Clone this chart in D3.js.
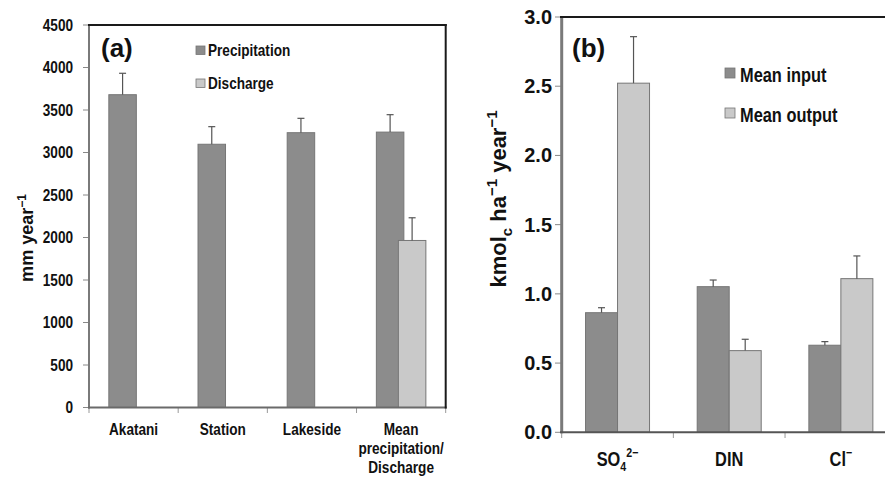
<!DOCTYPE html>
<html>
<head>
<meta charset="utf-8">
<script src="https://cdn.jsdelivr.net/npm/d3@7/dist/d3.min.js"></script>
<style>
  body { margin: 0; background: #fff; }
  text { font-family: "Liberation Sans", Arial, sans-serif; font-weight: bold; fill: #111; }
</style>
</head>
<body>
<svg id="chart" width="885" height="477"></svg>
<script>
// Panel (a): annual precipitation at three sites, and the mean precipitation vs. discharge
const sites = ["Akatani", "Station", "Lakeside", "Mean"];
const precipitation = [3680, 3097, 3233, 3240];
const precipitationErr = [252, 207, 169, 205];
const discharge = [null, null, null, 1965];
const dischargeErr = [null, null, null, 267];
const yTicksA = [0, 500, 1000, 1500, 2000, 2500, 3000, 3500, 4000, 4500];

// Panel (b): mean input and output fluxes of anions
const ions = ["SO4", "DIN", "Cl"];
const meanInput = [0.864, 1.052, 0.629];
const meanInputErr = [0.036, 0.048, 0.026];
const meanOutput = [2.522, 0.590, 1.110];
const meanOutputErr = [0.336, 0.082, 0.164];
const yTicksB = [0, 0.5, 1.0, 1.5, 2.0, 2.5, 3.0];

const DARK = "#8c8c8c", LIGHT = "#c9c9c9", EDGE = "#767676", ERR = "#555";
const svg = d3.select("#chart");

// text with a horizontal squeeze (narrow bold face)
function label(g, x, y, str, size, anchor, sx) {
  return g.append("text")
    .attr("transform", `translate(${x},${y}) scale(${sx},1)`)
    .attr("text-anchor", anchor || "start")
    .style("font-size", size + "px")
    .text(str);
}

function errorBars(g, data, cx, ys, capHalf) {
  data.forEach(d => {
    const x = cx(d), yb = ys(d.v), yt = ys(d.v + d.e);
    g.append("line").attr("x1", x).attr("x2", x).attr("y1", yb).attr("y2", yt)
      .attr("stroke", ERR).attr("stroke-width", 1.2);
    g.append("line").attr("x1", x - capHalf).attr("x2", x + capHalf).attr("y1", yt).attr("y2", yt)
      .attr("stroke", ERR).attr("stroke-width", 1.2);
  });
}

// ---------------- Panel (a) ----------------
{
  const g = svg.append("g");
  const x = d3.scaleBand().domain(sites).range([89, 445.7]).padding(0);
  const y = d3.scaleLinear().domain([0, 4500]).range([407.5, 25]);
  const bw = 27.5, off = 11;
  const FS = 16, SX = 0.85;

  yTicksA.forEach(t => {
    g.append("line").attr("x1", 83).attr("x2", 89).attr("y1", y(t)).attr("y2", y(t))
      .attr("stroke", "#888").attr("stroke-width", 1);
    label(g, 73, y(t) + 5.5, String(t), FS, "end", SX);
  });
  sites.forEach(s => {
    g.append("line").attr("x1", x(s)).attr("x2", x(s)).attr("y1", 407.5).attr("y2", 413)
      .attr("stroke", "#999").attr("stroke-width", 1);
  });
  g.append("line").attr("x1", 445.7).attr("x2", 445.7).attr("y1", 407.5).attr("y2", 413)
    .attr("stroke", "#999").attr("stroke-width", 1);

  const pData = sites.map((s, i) => ({ s, v: precipitation[i], e: precipitationErr[i] }));
  const dData = sites.map((s, i) => ({ s, v: discharge[i], e: dischargeErr[i] })).filter(d => d.v != null);
  const cP = d => x(d.s) + x.bandwidth() / 2 - off;
  const cD = d => x(d.s) + x.bandwidth() / 2 + off;

  g.selectAll(".p").data(pData).join("rect")
    .attr("x", d => cP(d) - bw / 2).attr("width", bw)
    .attr("y", d => y(d.v)).attr("height", d => y(0) - y(d.v))
    .attr("fill", DARK).attr("stroke", EDGE).attr("stroke-width", 1);
  errorBars(g, pData, cP, y, 3.5);

  g.selectAll(".d").data(dData).join("rect")
    .attr("x", d => cD(d) - bw / 2).attr("width", bw)
    .attr("y", d => y(d.v)).attr("height", d => y(0) - y(d.v))
    .attr("fill", LIGHT).attr("stroke", EDGE).attr("stroke-width", 1);
  errorBars(g, dData, cD, y, 3.5);

  // frame: grey axes on left/bottom, black on top/right
  g.append("line").attr("x1", 89).attr("x2", 89).attr("y1", 25).attr("y2", 408.5)
    .attr("stroke", "#7a7a7a").attr("stroke-width", 2);
  g.append("line").attr("x1", 88).attr("x2", 446.7).attr("y1", 407.5).attr("y2", 407.5)
    .attr("stroke", "#6a6a6a").attr("stroke-width", 2);
  g.append("line").attr("x1", 88).attr("x2", 446.7).attr("y1", 25).attr("y2", 25)
    .attr("stroke", "#1a1a1a").attr("stroke-width", 2);
  g.append("line").attr("x1", 445.7).attr("x2", 445.7).attr("y1", 24).attr("y2", 408.5)
    .attr("stroke", "#1a1a1a").attr("stroke-width", 2);

  const catLines = { Akatani: ["Akatani"], Station: ["Station"], Lakeside: ["Lakeside"],
                     Mean: ["Mean", "precipitation/", "Discharge"] };
  sites.forEach(s => {
    catLines[s].forEach((ln, k) => label(g, x(s) + x.bandwidth() / 2, 435 + k * 18.8, ln, FS, "middle", SX));
  });

  [["Precipitation", DARK, 46], ["Discharge", LIGHT, 79]].forEach(([t, c, yy]) => {
    g.append("rect").attr("x", 196).attr("y", yy).attr("width", 9).attr("height", 8.5)
      .attr("fill", c).attr("stroke", EDGE).attr("stroke-width", 0.8);
    label(g, 208, yy + 10, t, FS, "start", SX);
  });

  label(g, 101, 57, "(a)", 26, "start", 1);

  const yt = g.append("text").attr("transform", "translate(33,238) rotate(-90)")
    .attr("text-anchor", "middle").style("font-size", "18px");
  yt.append("tspan").text("mm year");
  yt.append("tspan").attr("dy", -7).style("font-size", "12px").text("\u22121");
}

// ---------------- Panel (b) ----------------
{
  const g = svg.append("g");
  const x = d3.scaleBand().domain(ions).range([561.7, 896.7]).padding(0);
  const y = d3.scaleLinear().domain([0, 3]).range([432.3, 17]);
  const bw = 32;
  const FS = 20, SX = 0.82;

  yTicksB.forEach(t => {
    g.append("line").attr("x1", 555).attr("x2", 561.7).attr("y1", y(t)).attr("y2", y(t))
      .attr("stroke", "#888").attr("stroke-width", 1);
    label(g, 552, y(t) + 7, d3.format(".1f")(t), 21, "end", 0.95);
  });
  ions.forEach(s => {
    g.append("line").attr("x1", x(s)).attr("x2", x(s)).attr("y1", 432.3).attr("y2", 438)
      .attr("stroke", "#999").attr("stroke-width", 1);
  });

  const iData = ions.map((s, i) => ({ s, v: meanInput[i], e: meanInputErr[i] }));
  const oData = ions.map((s, i) => ({ s, v: meanOutput[i], e: meanOutputErr[i] }));
  const cI = d => x(d.s) + x.bandwidth() / 2 - bw / 2;
  const cO = d => x(d.s) + x.bandwidth() / 2 + bw / 2;

  g.selectAll(".i").data(iData).join("rect")
    .attr("x", d => cI(d) - bw / 2).attr("width", bw)
    .attr("y", d => y(d.v)).attr("height", d => y(0) - y(d.v))
    .attr("fill", DARK).attr("stroke", EDGE).attr("stroke-width", 1);
  g.selectAll(".o").data(oData).join("rect")
    .attr("x", d => cO(d) - bw / 2).attr("width", bw)
    .attr("y", d => y(d.v)).attr("height", d => y(0) - y(d.v))
    .attr("fill", LIGHT).attr("stroke", EDGE).attr("stroke-width", 1);
  errorBars(g, iData, cI, y, 3.5);
  errorBars(g, oData, cO, y, 3.5);

  g.append("line").attr("x1", 561.7).attr("x2", 561.7).attr("y1", 16).attr("y2", 433.3)
    .attr("stroke", "#7a7a7a").attr("stroke-width", 3);
  g.append("line").attr("x1", 560).attr("x2", 885).attr("y1", 432.3).attr("y2", 432.3)
    .attr("stroke", "#555").attr("stroke-width", 2);
  g.append("line").attr("x1", 560).attr("x2", 885).attr("y1", 17).attr("y2", 17)
    .attr("stroke", "#1a1a1a").attr("stroke-width", 2);

  const cx = s => x(s) + x.bandwidth() / 2;
  const base = 466;
  {
    const t = g.append("text").attr("transform", `translate(${cx("SO4")},${base}) scale(${SX},1)`)
      .attr("text-anchor", "middle").style("font-size", FS + "px");
    t.append("tspan").text("SO");
    t.append("tspan").attr("dy", 5).style("font-size", "13px").text("4");
    t.append("tspan").attr("dy", -14).style("font-size", "13px").text("2\u2212");
  }
  label(g, cx("DIN"), base, "DIN", FS, "middle", SX);
  {
    const t = g.append("text").attr("transform", `translate(${cx("Cl")},${base}) scale(${SX},1)`)
      .attr("text-anchor", "middle").style("font-size", FS + "px");
    t.append("tspan").text("Cl");
    t.append("tspan").attr("dy", -9).style("font-size", "13px").text("\u2212");
  }

  [["Mean input", DARK, 68], ["Mean output", LIGHT, 108]].forEach(([t, c, yy]) => {
    g.append("rect").attr("x", 725).attr("y", yy).attr("width", 10).attr("height", 10)
      .attr("fill", c).attr("stroke", EDGE).attr("stroke-width", 0.8);
    label(g, 740, yy + 13.5, t, FS, "start", SX);
  });

  label(g, 572, 57, "(b)", 26, "start", 1);

  const yt = g.append("text").attr("transform", "translate(506,199) rotate(-90)")
    .attr("text-anchor", "middle").style("font-size", "22px");
  yt.append("tspan").text("kmol");
  yt.append("tspan").attr("dy", 6).style("font-size", "15px").text("c");
  yt.append("tspan").attr("dy", -6).text(" ha");
  yt.append("tspan").attr("dy", -9).style("font-size", "15px").text("\u22121");
  yt.append("tspan").attr("dy", 9).text(" year");
  yt.append("tspan").attr("dy", -9).style("font-size", "15px").text("\u22121");
}
</script>
</body>
</html>
